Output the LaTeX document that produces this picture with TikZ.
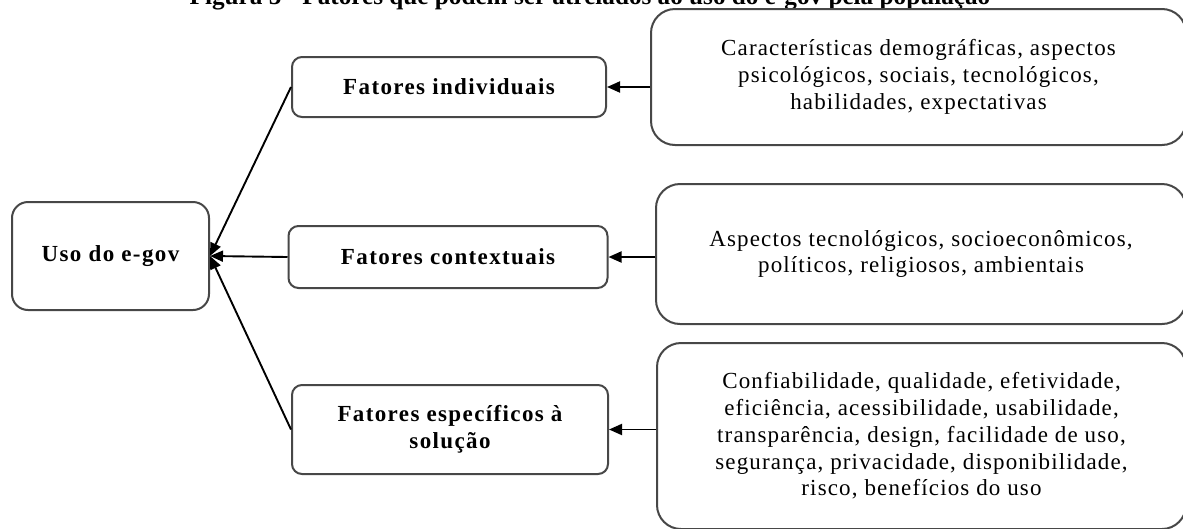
\documentclass[tikz,border=0pt]{standalone}
\usepackage{fontspec}
\setmainfont{Liberation Serif}
\newfontfamily\boxfont[LetterSpace=5]{Liberation Serif}
\newfontfamily\boldboxfont[LetterSpace=6]{Liberation Serif}
\usetikzlibrary{arrows.meta}
\begin{document}
\begin{tikzpicture}[x=1pt,y=-1pt,
  box/.style={draw=black!72, line width=2pt, fill=white, align=center, inner sep=0pt},
  midbox/.style={box, rounded corners=10pt, font=\boldboxfont\bfseries\fontsize{23}{27}\selectfont},
  usobox/.style={box, rounded corners=16pt, font=\boldboxfont\bfseries\fontsize{23}{27}\selectfont},
  rbox/.style={box, rounded corners=24pt, font=\boxfont\fontsize{23}{26.7}\selectfont},
  arr/.style={draw=black, line width=1.9pt, -{Triangle[length=13pt,width=11pt]}},
  titlefont/.style={font=\bfseries\fontsize{25.2}{28}\selectfont}
]
\useasboundingbox (0,0) rectangle (1183,528);
\clip (0,0) rectangle (1183,528);
\node[titlefont, anchor=base, inner sep=0pt] (title) at (590,4) {Figura 5 - Fatores que podem ser atrelados ao uso do e-gov pela população};

\node[usobox, minimum width=197pt, minimum height=108pt] (uso) at (110.5,256) {Uso do e-gov};
\node[midbox, minimum width=314pt, minimum height=60pt] (ind) at (449,87) {Fatores individuais};
\node[midbox, minimum width=319pt, minimum height=62pt] (ctx) at (448,257) {Fatores contextuais};
\node[midbox, minimum width=316pt, minimum height=89pt] (esp) at (450,429.5) {Fatores específicos à\\solução};

\node[rbox, minimum width=535pt, minimum height=136pt] (r1) at (918.5,77)
  {Características demográficas, aspectos\\psicológicos, sociais, tecnológicos,\\habilidades, expectativas};
\node[rbox, minimum width=530pt, minimum height=140pt] (r2) at (921,254)
  {Aspectos tecnológicos, socioeconômicos,\\políticos, religiosos, ambientais};
\node[rbox, minimum width=529pt, minimum height=186pt] (r3) at (921.5,436)
  {Confiabilidade, qualidade, efetividade,\\eficiência, acessibilidade, usabilidade,\\transparência, design, facilidade de uso,\\segurança, privacidade, disponibilidade,\\risco, benefícios do uso};

\draw[arr] (r1.west |- ind.east) -- (ind.east);
\draw[arr] (r2.west |- ctx.east) -- (ctx.east);
\draw[arr] (r3.west |- esp.east) -- (esp.east);

\draw[arr] (ind.west) -- (uso.east);
\draw[arr] (ctx.west) -- (uso.east);
\draw[arr] (esp.west) -- (uso.east);
\end{tikzpicture}
\end{document}
